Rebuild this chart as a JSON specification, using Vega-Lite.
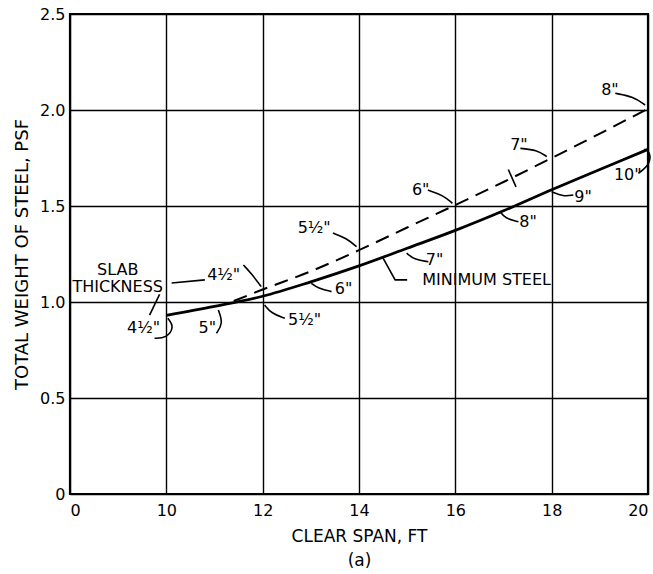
{
  "$schema": "https://vega.github.io/schema/vega-lite/v6.json",
  "width": 578,
  "height": 480,
  "autosize": "none",
  "padding": {"left": 70, "top": 14, "right": 5, "bottom": 80},
  "background": "white",
  "config": {
    "view": {"stroke": "black", "strokeWidth": 2.2},
    "font": "DejaVu Sans"
  },
  "datasets": {
    "curves": [
      {"curve": "minimum", "span": 10, "weight": 0.93},
      {"curve": "minimum", "span": 11, "weight": 0.977},
      {"curve": "minimum", "span": 12, "weight": 1.03},
      {"curve": "minimum", "span": 13, "weight": 1.105},
      {"curve": "minimum", "span": 14, "weight": 1.188},
      {"curve": "minimum", "span": 15, "weight": 1.28},
      {"curve": "minimum", "span": 16, "weight": 1.373},
      {"curve": "minimum", "span": 17, "weight": 1.475},
      {"curve": "minimum", "span": 18, "weight": 1.585},
      {"curve": "minimum", "span": 19, "weight": 1.69},
      {"curve": "minimum", "span": 20, "weight": 1.795},
      {"curve": "alternate", "span": 11.4, "weight": 1.005},
      {"curve": "alternate", "span": 12, "weight": 1.065},
      {"curve": "alternate", "span": 13, "weight": 1.16},
      {"curve": "alternate", "span": 14, "weight": 1.27},
      {"curve": "alternate", "span": 15, "weight": 1.388},
      {"curve": "alternate", "span": 16, "weight": 1.505},
      {"curve": "alternate", "span": 17, "weight": 1.625},
      {"curve": "alternate", "span": 18, "weight": 1.75},
      {"curve": "alternate", "span": 19, "weight": 1.877},
      {"curve": "alternate", "span": 20, "weight": 2.007}
    ],
    "curvedLeaders": [
      {"id": "d45", "seq": 1, "span": 11.6, "weight": 1.193},
      {"id": "d45", "seq": 2, "span": 11.76, "weight": 1.15},
      {"id": "d45", "seq": 3, "span": 11.97, "weight": 1.08},
      {"id": "d55", "seq": 1, "span": 13.46, "weight": 1.359},
      {"id": "d55", "seq": 2, "span": 13.74, "weight": 1.332},
      {"id": "d55", "seq": 3, "span": 13.95, "weight": 1.288},
      {"id": "d6", "seq": 1, "span": 15.43, "weight": 1.583},
      {"id": "d6", "seq": 2, "span": 15.74, "weight": 1.557},
      {"id": "d6", "seq": 3, "span": 15.94, "weight": 1.514},
      {"id": "d7", "seq": 1, "span": 17.35, "weight": 1.8},
      {"id": "d7", "seq": 2, "span": 17.69, "weight": 1.792},
      {"id": "d7", "seq": 3, "span": 17.9, "weight": 1.757},
      {"id": "d8", "seq": 1, "span": 19.32, "weight": 2.087},
      {"id": "d8", "seq": 2, "span": 19.7, "weight": 2.069},
      {"id": "d8", "seq": 3, "span": 19.94, "weight": 2.026},
      {"id": "s45", "seq": 1, "span": 8.78, "weight": 0.811},
      {"id": "s45", "seq": 2, "span": 10.0, "weight": 0.811},
      {"id": "s45", "seq": 3, "span": 10.17, "weight": 0.871},
      {"id": "s45", "seq": 4, "span": 10.03, "weight": 0.915},
      {"id": "s5", "seq": 1, "span": 11.04, "weight": 0.837},
      {"id": "s5", "seq": 2, "span": 11.18, "weight": 0.889},
      {"id": "s5", "seq": 3, "span": 11.08, "weight": 0.958},
      {"id": "s55", "seq": 1, "span": 12.46, "weight": 0.915},
      {"id": "s55", "seq": 2, "span": 12.18, "weight": 0.941},
      {"id": "s55", "seq": 3, "span": 12.04, "weight": 0.984},
      {"id": "s6", "seq": 1, "span": 13.43, "weight": 1.054},
      {"id": "s6", "seq": 2, "span": 13.15, "weight": 1.071},
      {"id": "s6", "seq": 3, "span": 13.01, "weight": 1.097},
      {"id": "s7", "seq": 1, "span": 15.44, "weight": 1.21},
      {"id": "s7", "seq": 2, "span": 15.16, "weight": 1.219},
      {"id": "s7", "seq": 3, "span": 14.99, "weight": 1.254},
      {"id": "s8", "seq": 1, "span": 17.31, "weight": 1.418},
      {"id": "s8", "seq": 2, "span": 17.03, "weight": 1.436},
      {"id": "s8", "seq": 3, "span": 16.93, "weight": 1.47},
      {"id": "s9", "seq": 1, "span": 18.45, "weight": 1.557},
      {"id": "s9", "seq": 2, "span": 18.24, "weight": 1.549},
      {"id": "s9", "seq": 3, "span": 18.0, "weight": 1.574},
      {"id": "s10", "seq": 1, "span": 19.8, "weight": 1.67},
      {"id": "s10", "seq": 2, "span": 20.06, "weight": 1.72},
      {"id": "s10", "seq": 3, "span": 20.03, "weight": 1.79},
      {"id": "s10", "seq": 4, "span": 19.92, "weight": 1.795}
    ],
    "straightLeaders": [
      {"id": "min", "seq": 1, "span": 15.0, "weight": 1.115},
      {"id": "min", "seq": 2, "span": 14.75, "weight": 1.115},
      {"id": "min", "seq": 3, "span": 14.5, "weight": 1.229},
      {"id": "slab1", "seq": 1, "span": 10.11, "weight": 1.099},
      {"id": "slab1", "seq": 2, "span": 10.8, "weight": 1.115},
      {"id": "slab2", "seq": 1, "span": 9.3, "weight": 1.04},
      {"id": "slab2", "seq": 2, "span": 8.26, "weight": 0.932},
      {"id": "tick", "seq": 1, "span": 17.1, "weight": 1.69},
      {"id": "tick", "seq": 2, "span": 17.26, "weight": 1.6}
    ],
    "labels": [
      {"label": "4½\"", "span": 11.19, "weight": 1.14},
      {"label": "5½\"", "span": 13.07, "weight": 1.385},
      {"label": "6\"", "span": 15.28, "weight": 1.583},
      {"label": "7\"", "span": 17.32, "weight": 1.818},
      {"label": "8\"", "span": 19.21, "weight": 2.104},
      {"label": "4½\"", "span": 7.64, "weight": 0.865},
      {"label": "5\"", "span": 10.85, "weight": 0.865},
      {"label": "5½\"", "span": 12.87, "weight": 0.906},
      {"label": "6\"", "span": 13.68, "weight": 1.068},
      {"label": "7\"", "span": 15.57, "weight": 1.219},
      {"label": "8\"", "span": 17.51, "weight": 1.417},
      {"label": "9\"", "span": 18.65, "weight": 1.547},
      {"label": "10\"", "span": 19.58, "weight": 1.661},
      {"label": "MINIMUM  STEEL", "span": 16.65, "weight": 1.115},
      {"label": "SLAB", "span": 4.95, "weight": 1.167},
      {"label": "THICKNESS", "span": 4.95, "weight": 1.078}
    ]
  },
  "encoding": {
    "x": {
      "field": "span",
      "type": "quantitative",
      "scale": {"domain": [0, 10, 20], "range": [0, 96.33, 578], "nice": false, "zero": false},
      "axis": {
        "values": [0, 10, 12, 14, 16, 18, 20],
        "grid": true,
        "gridColor": "black",
        "gridOpacity": 1,
        "gridWidth": 1.4,
        "domain": false,
        "ticks": false,
        "labelFontSize": 16,
        "labelColor": "black",
        "labelPadding": 8,
        "labelOverlap": false,
        "labelFlush": true,
        "title": ["CLEAR SPAN, FT", "(a)"],
        "titleFontSize": 17,
        "titleFontWeight": "normal",
        "titleColor": "black",
        "titlePadding": 10,
        "titleLineHeight": 24
      }
    },
    "y": {
      "field": "weight",
      "type": "quantitative",
      "scale": {"domain": [0, 2.5], "nice": false},
      "axis": {
        "values": [0, 0.5, 1, 1.5, 2, 2.5],
        "labelExpr": "datum.value == 0 ? '0' : format(datum.value, '.1f')",
        "grid": true,
        "gridColor": "black",
        "gridOpacity": 1,
        "gridWidth": 1.4,
        "domain": false,
        "ticks": false,
        "labelFontSize": 16,
        "labelColor": "black",
        "labelPadding": 5,
        "labelOverlap": false,
        "labelFlush": false,
        "title": "TOTAL WEIGHT OF STEEL, PSF",
        "titleFontSize": 18,
        "titleFontWeight": "normal",
        "titleColor": "black",
        "titlePadding": 8
      }
    }
  },
  "layer": [
    {
      "data": {"name": "curves"},
      "transform": [{"filter": "datum.curve == 'minimum'"}],
      "mark": {"type": "line", "color": "black", "strokeWidth": 2.8, "interpolate": "monotone"}
    },
    {
      "data": {"name": "curves"},
      "transform": [{"filter": "datum.curve == 'alternate'"}],
      "mark": {"type": "line", "color": "black", "strokeWidth": 2, "strokeDash": [14, 8], "interpolate": "monotone"}
    },
    {
      "data": {"name": "curvedLeaders"},
      "mark": {"type": "line", "color": "black", "strokeWidth": 1.6, "interpolate": "basis", "clip": false},
      "encoding": {"detail": {"field": "id"}, "order": {"field": "seq"}}
    },
    {
      "data": {"name": "straightLeaders"},
      "mark": {"type": "line", "color": "black", "strokeWidth": 1.6, "clip": false},
      "encoding": {"detail": {"field": "id"}, "order": {"field": "seq"}}
    },
    {
      "data": {"name": "labels"},
      "mark": {"type": "text", "color": "black", "fontSize": 16, "align": "center", "baseline": "middle", "font": "DejaVu Sans"},
      "encoding": {"text": {"field": "label"}}
    }
  ]
}
